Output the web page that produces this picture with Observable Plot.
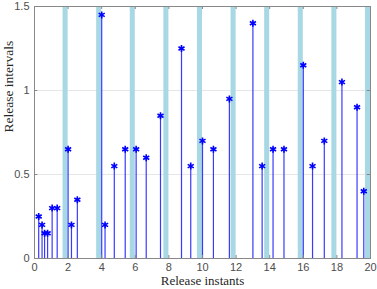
<!DOCTYPE html>
<html>
<head>
<meta charset="utf-8">
<script src="https://cdn.jsdelivr.net/npm/d3@7"></script>
<script src="https://cdn.jsdelivr.net/npm/@observablehq/plot@0.6"></script>
<style>
  html, body { margin: 0; padding: 0; background: #ffffff; }
  #chart svg { display: block; }
</style>
</head>
<body>
<div id="chart"></div>
<script>
const instants = [0.25, 0.45, 0.6, 0.78, 1.05, 1.35, 2.0, 2.2, 2.55, 4.0, 4.2, 4.75, 5.4, 6.05, 6.65, 7.5, 8.75, 9.3, 10.0, 10.65, 11.6, 13.0, 13.55, 14.2, 14.85, 16.0, 16.55, 17.25, 18.3, 19.2, 19.6];
const intervals = [0.25, 0.2, 0.15, 0.15, 0.3, 0.3, 0.65, 0.2, 0.35, 1.45, 0.2, 0.55, 0.65, 0.65, 0.6, 0.85, 1.25, 0.55, 0.7, 0.65, 0.95, 1.4, 0.55, 0.65, 0.65, 1.15, 0.55, 0.7, 1.05, 0.9, 0.4];
const bandStarts = [1.7, 3.7, 5.7, 7.7, 9.7, 11.7, 13.7, 15.7, 17.7, 19.7];
const bandEnds = [2, 4, 6, 8, 10, 12, 14, 16, 18, 20];
const xTicks = [0, 2, 4, 6, 8, 10, 12, 14, 16, 18, 20];
const yTicks = [0, 0.5, 1, 1.5];
const xLabel = "Release instants";
const yLabel = "Release intervals";

const stems = instants.map((x, i) => ({x, y: intervals[i]}));
const bands = bandStarts.map((s, i) => ({x1: s, x2: bandEnds[i]}));

const serif = "'Liberation Serif', 'Times New Roman', serif";
const sans = "'Liberation Sans', Arial, Helvetica, sans-serif";
const axisColor = "#888888";

const chart = Plot.plot({
  width: 377,
  height: 289,
  marginLeft: 34,
  marginRight: 7,
  marginTop: 6,
  marginBottom: 31,
  style: {fontFamily: sans, background: "#ffffff"},
  x: {domain: [0, 20]},
  y: {domain: [0, 1.5]},
  marks: [
    Plot.ruleY([0.5, 1], {stroke: "#e6e6e6"}),
    Plot.rect(bands, {x1: "x1", x2: "x2", y1: 0, y2: 1.5, fill: "#a8d8e4"}),
    Plot.ruleX(stems, {x: "x", y1: 0, y2: "y", stroke: "#3a3aff", strokeWidth: 1.2}),
    Plot.dot(stems, {x: "x", y: "y", symbol: "asterisk", stroke: "#0000ff", r: 3.3, strokeWidth: 1.6}),
    Plot.frame({stroke: axisColor}),
    Plot.ruleX(xTicks, {x: d => d, y1: 0, y2: 0.018, stroke: axisColor}),
    Plot.ruleX(xTicks, {x: d => d, y1: 1.482, y2: 1.5, stroke: axisColor}),
    Plot.ruleY(yTicks, {y: d => d, x1: 0, x2: 0.2, stroke: axisColor}),
    Plot.ruleY(yTicks, {y: d => d, x1: 19.8, x2: 20, stroke: axisColor}),
    Plot.axisX(xTicks, {tickSize: 0, tickPadding: 5, fontSize: 11, fill: "#4d4d4d", fontFamily: sans, label: null}),
    Plot.axisY(yTicks, {tickSize: 0, tickPadding: 5, fontSize: 11, fill: "#4d4d4d", fontFamily: sans, label: null, tickFormat: d => String(d)}),
    Plot.text([xLabel], {frameAnchor: "bottom", text: d => d, dy: 26, fontSize: 13, fontFamily: serif, fill: "#262626"}),
    Plot.text([yLabel], {frameAnchor: "left", text: d => d, rotate: -90, dx: -26, fontSize: 13.5, fontFamily: serif, fill: "#262626"})
  ]
});
document.getElementById("chart").appendChild(chart);
</script>
</body>
</html>
